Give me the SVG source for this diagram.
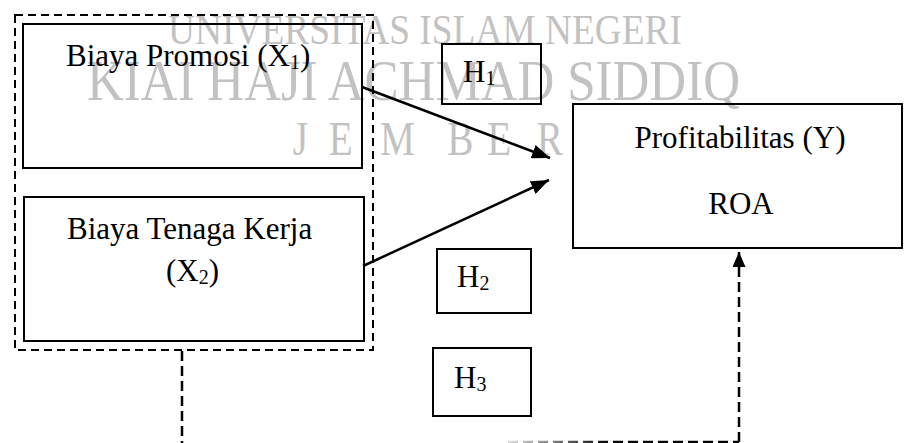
<svg xmlns="http://www.w3.org/2000/svg" width="904" height="443" viewBox="0 0 904 443">
<style>
text{font-family:"Liberation Serif","Times New Roman",serif;fill:#000}
.wm{fill:#c2c2c2}
.box{fill:none;stroke:#000;stroke-width:2}
.dash{fill:none;stroke:#000;stroke-width:2;stroke-dasharray:8 5}
.dline{fill:none;stroke:#000;stroke-width:2.5;stroke-dasharray:10 5}
.arrow{fill:none;stroke:#000;stroke-width:2.5}
.lbl{font-size:31px}
</style>
<defs>
<marker id="ah" viewBox="0 0 10 10" refX="10" refY="5" markerWidth="15" markerHeight="13" markerUnits="userSpaceOnUse" orient="auto" preserveAspectRatio="none">
<path d="M0,0 L10,5 L0,10 Z" fill="#000"/>
</marker>
<marker id="ah2" viewBox="0 0 10 10" refX="10" refY="5" markerWidth="18" markerHeight="14" markerUnits="userSpaceOnUse" orient="auto" preserveAspectRatio="none">
<path d="M0,0 L10,5 L0,10 Z" fill="#000"/>
</marker>
<linearGradient id="fade" gradientUnits="userSpaceOnUse" x1="508" y1="0" x2="610" y2="0">
<stop offset="0" stop-color="#e0e0e0"/>
<stop offset="1" stop-color="#000"/>
</linearGradient>
</defs>
<g id="watermark">
<text class="wm" x="168" y="44" font-size="43" textLength="514" lengthAdjust="spacingAndGlyphs">UNIVERSITAS ISLAM NEGERI</text>
<text class="wm" x="87" y="100" font-size="57" textLength="653" lengthAdjust="spacingAndGlyphs">KIAI HAJI ACHMAD SIDDIQ</text>
<text class="wm" transform="scale(0.8 1)" x="366 411 475 559 609 671" y="155" font-size="49">JEMBER</text>
</g>
<g id="group-x">
<rect class="dash" x="15" y="15" width="358" height="335"/>
</g>
<g id="x1">
<rect class="box" x="23" y="24" width="339" height="144"/>
<text class="lbl" x="66" y="66">Biaya Promosi (X<tspan font-size="20" dy="3">1</tspan><tspan dy="-3">)</tspan></text>
</g>
<g id="x2">
<rect class="box" x="24" y="197" width="340" height="144"/>
<text class="lbl" x="67" y="239">Biaya Tenaga Kerja</text>
<text class="lbl" x="166" y="281">(X<tspan font-size="20" dy="3">2</tspan><tspan dy="-3">)</tspan></text>
</g>
<g id="h1">
<rect class="box" x="442" y="44" width="99" height="60"/>
<text class="lbl" x="463" y="82">H<tspan font-size="20" dy="3">1</tspan></text>
</g>
<g id="h2">
<rect class="box" x="437" y="249" width="94" height="64"/>
<text class="lbl" x="457" y="287">H<tspan font-size="20" dy="3">2</tspan></text>
</g>
<g id="h3">
<rect class="box" x="433" y="348" width="98" height="68"/>
<text class="lbl" x="454" y="388">H<tspan font-size="20" dy="3">3</tspan></text>
</g>
<g id="y">
<rect class="box" x="573" y="104" width="329" height="144"/>
<text class="lbl" x="740" y="148" text-anchor="middle">Profitabilitas (Y)</text>
<text class="lbl" x="741" y="214" text-anchor="middle">ROA</text>
</g>
<g id="connectors">
<line class="arrow" x1="362" y1="87" x2="550" y2="158" marker-end="url(#ah2)"/>
<line class="arrow" x1="363" y1="266" x2="549" y2="180" marker-end="url(#ah2)"/>
<line class="dline" x1="182" y1="351" x2="182" y2="443"/>
<line x1="508" y1="442" x2="739" y2="442" stroke="url(#fade)" stroke-width="2.5" stroke-dasharray="10 5"/>
<line class="dline" x1="739" y1="442" x2="739" y2="252" marker-end="url(#ah)"/>
</g>
</svg>
